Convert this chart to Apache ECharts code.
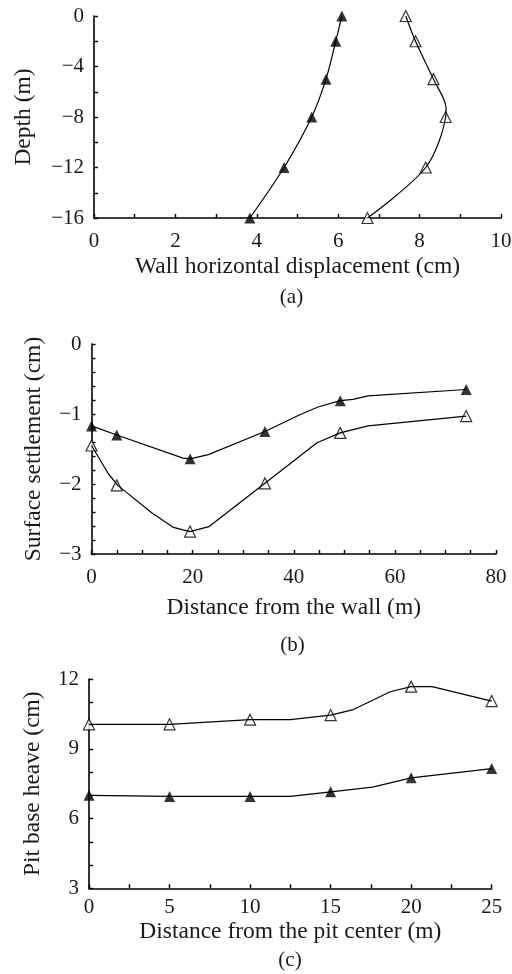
<!DOCTYPE html>
<html>
<head>
<meta charset="utf-8">
<script src="https://cdn.jsdelivr.net/npm/echarts@6/dist/echarts.min.js"></script>
<style>
  html, body { margin: 0; padding: 0; background: #fff; }
  #chart { width: 512px; height: 974px; }
</style>
</head>
<body>
<div id="chart"></div>
<script>
// (a) wall horizontal displacement vs depth
var depthA = [0, -2, -5, -8, -12, -16];
var dispFilledA = [6.09, 5.94, 5.70, 5.35, 4.67, 3.83];
var dispOpenA = [7.66, 7.90, 8.34, 8.64, 8.15, 6.72];
// curve of the open series has a knee between -5 and -8
var lineOpenA = [[7.66, 0], [7.90, -2], [8.34, -5], [8.65, -7.3], [8.64, -8], [8.15, -12], [6.72, -16]];

// (b) surface settlement vs distance from the wall
var distB = [0, 5, 19.5, 34.3, 49.2, 74.1];
var settleFilledB = [-1.17, -1.30, -1.64, -1.25, -0.81, -0.65];
var settleOpenB = [-1.45, -2.02, -2.68, -1.99, -1.27, -1.03];
var lineFilledB = [[0, -1.17], [5, -1.30], [18.1, -1.63], [19.5, -1.64], [23.1, -1.58], [34.3, -1.25],
  [41.2, -1.01], [44.8, -0.90], [49.2, -0.81], [51.7, -0.79], [54.7, -0.74], [74.1, -0.65]];
var lineOpenB = [[0, -1.45], [3.3, -1.85], [5.2, -2.02], [11.9, -2.41], [16.2, -2.62], [19.5, -2.68],
  [23.2, -2.61], [34.3, -1.99], [44.6, -1.41], [49.2, -1.27], [54.7, -1.17], [74.1, -1.03]];

// (c) pit base heave vs distance from the pit center
var distC = [0, 5, 10, 15, 20, 25];
var heaveFilledC = [7.0, 6.95, 6.95, 7.15, 7.75, 8.15];
var heaveOpenC = [10.05, 10.05, 10.25, 10.45, 11.67, 11.05];
var lineFilledC = [[0, 7.0], [5, 6.95], [10, 6.95], [12.5, 6.95], [15, 7.15], [17.6, 7.35], [20, 7.75], [25, 8.15]];
var lineOpenC = [[0, 10.05], [5, 10.05], [10, 10.25], [12.5, 10.25], [15, 10.45], [16.35, 10.67],
  [18.7, 11.45], [20, 11.67], [21.3, 11.67], [25, 11.05]];

var FONT = 'Liberation Serif';

function pairs(xs, ys) {
  return xs.map(function (x, i) { return [x, ys[i]]; });
}

// labels only every `step`, ticks at every interval
function fmt(step) {
  return function (v) {
    var k = v / step;
    if (Math.abs(k - Math.round(k)) > 1e-6) return '';
    return String(Math.round(v)).replace('-', '\u2212');
  };
}

function axis(idx, min, max, interval, labelStep, name, gap, isY, margin) {
  return {
    type: 'value',
    gridIndex: idx,
    min: min, max: max, interval: interval,
    position: isY ? 'left' : 'bottom',
    name: name,
    nameLocation: 'middle',
    nameGap: gap,
    nameMoveOverlap: false,
    nameTextStyle: { fontFamily: FONT, fontSize: 23.5, color: '#1a1a1a' },
    axisLine: { show: true, onZero: false, lineStyle: { color: '#000', width: 1.6 } },
    axisTick: { show: true, inside: true, length: 4, lineStyle: { color: '#000', width: 1.4 } },
    splitLine: { show: false },
    axisLabel: { formatter: fmt(labelStep), margin: margin, fontFamily: FONT, fontSize: 21, color: '#1a1a1a' }
  };
}

function lineSeries(idx, data, smooth) {
  return {
    type: 'line', xAxisIndex: idx, yAxisIndex: idx, data: data,
    symbol: 'none', smooth: smooth, silent: true,
    lineStyle: { color: '#000', width: 1.2 }
  };
}

function markSeries(idx, data, open) {
  return {
    type: 'scatter', xAxisIndex: idx, yAxisIndex: idx, data: data,
    symbol: 'triangle', symbolSize: 11, silent: true,
    itemStyle: open ? { color: '#fff', borderColor: '#000', borderWidth: 1.2 } : { color: '#000' }
  };
}

var option = {
  animation: false,
  backgroundColor: '#fff',
  grid: [
    { left: 94, top: 16, width: 407, height: 202, outerBoundsMode: 'none' },
    { left: 91.5, top: 344, width: 404.5, height: 210, outerBoundsMode: 'none' },
    { left: 89, top: 679, width: 402.7, height: 209.3, outerBoundsMode: 'none' }
  ],
  xAxis: [
    axis(0, 0, 10, 1, 2, 'Wall horizontal displacement (cm)', 37, false, 13),
    axis(1, 0, 80, 5, 20, 'Distance from the wall (m)', 42, false, 13),
    axis(2, 0, 25, 2.5, 5, 'Distance from the pit center (m)', 32, false, 9)
  ],
  yAxis: [
    axis(0, -16, 0, 2, 4, 'Depth (m)', 58, true, 10),
    axis(1, -3, 0, 0.2, 1, 'Surface settlement (cm)', 46, true, 10),
    axis(2, 3, 12, 1, 3, 'Pit base heave (cm)', 44, true, 10)
  ],
  graphic: [
    { type: 'text', x: 291.5, y: 297, style: { text: '(a)', font: '21px "' + FONT + '"', fill: '#1a1a1a', align: 'center', verticalAlign: 'middle' } },
    { type: 'text', x: 292.5, y: 645, style: { text: '(b)', font: '21px "' + FONT + '"', fill: '#1a1a1a', align: 'center', verticalAlign: 'middle' } },
    { type: 'text', x: 290, y: 960, style: { text: '(c)', font: '21px "' + FONT + '"', fill: '#1a1a1a', align: 'center', verticalAlign: 'middle' } }
  ],
  series: [
    lineSeries(0, pairs(dispFilledA, depthA), 0.3),
    lineSeries(0, lineOpenA, 0.3),
    markSeries(0, pairs(dispFilledA, depthA), false),
    markSeries(0, pairs(dispOpenA, depthA), true),

    lineSeries(1, lineFilledB, false),
    lineSeries(1, lineOpenB, false),
    markSeries(1, pairs(distB, settleFilledB), false),
    markSeries(1, pairs(distB, settleOpenB), true),

    lineSeries(2, lineFilledC, false),
    lineSeries(2, lineOpenC, false),
    markSeries(2, pairs(distC, heaveFilledC), false),
    markSeries(2, pairs(distC, heaveOpenC), true)
  ]
};

var myChart = echarts.init(document.getElementById('chart'));
myChart.setOption(option);
</script>
</body>
</html>
